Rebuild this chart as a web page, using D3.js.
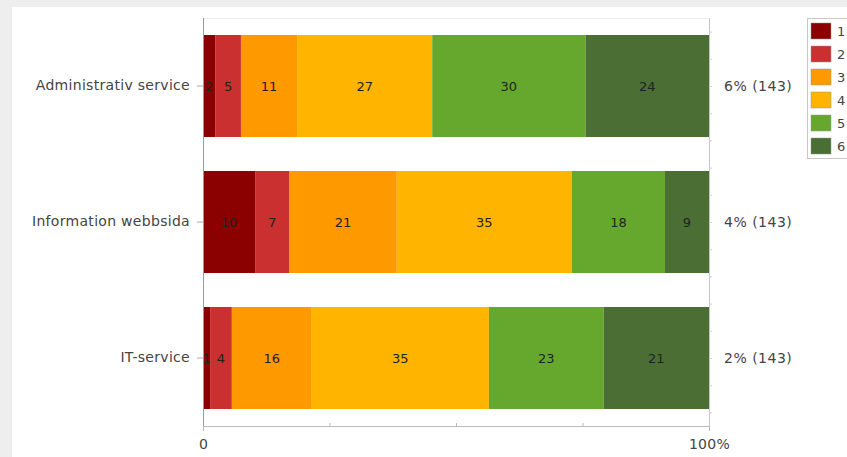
<!DOCTYPE html>
<html>
<head>
<meta charset="utf-8">
<script src="https://cdn.jsdelivr.net/npm/d3@7"></script>
<style>
  body { margin: 0; background: #eeeeee; }
  svg { display: block; font-family: "DejaVu Sans", Verdana, sans-serif; }
</style>
</head>
<body>
<div id="chart"></div>
<script>
var categories = ["Administrativ service", "Information webbsida", "IT-service"];
var seriesKeys = ["1", "2", "3", "4", "5", "6"];
// percent shares per category
var values1 = [2.4, 10.3, 1.4];
var values2 = [5.1, 6.7, 4.3];
var values3 = [11.1, 21.3, 15.8];
var values4 = [26.7, 34.6, 35.0];
var values5 = [30.3, 18.4, 22.7];
var values6 = [24.4, 8.7, 20.8];
var sideLabels = ["6% (143)", "4% (143)", "2% (143)"];
var xTickLabels = ["0", "", "", "", "100%"];

var colors = ["#8b0000", "#c9302f", "#ff9900", "#ffb400", "#66a82e", "#4b6e35"];

var W = 847, H = 457;
var margins = {top: 18, left: 203, right: 138, bottom: 31};
var plotW = W - margins.left - margins.right, plotH = H - margins.top - margins.bottom;
var labelFont = "14px";

var allSeries = [values1, values2, values3, values4, values5, values6];
var table = categories.map(function(c, i) {
    var row = {name: c, side: sideLabels[i]};
    seriesKeys.forEach(function(k, j) { row[k] = allSeries[j][i]; });
    return row;
});

var stacked = d3.stack().keys(seriesKeys).offset(d3.stackOffsetExpand)(table);

var x = d3.scaleLinear().domain([0, 1]).range([0, plotW]);
var y = d3.scaleBand().domain(categories).range([0, plotH])
    .paddingInner(0.25).paddingOuter(0.125);
var color = d3.scaleOrdinal().domain(seriesKeys).range(colors);

var svg = d3.select("#chart").append("svg").attr("width", W).attr("height", H);

svg.append("rect").attr("x", 12).attr("y", 7)
    .attr("width", W - 12).attr("height", H - 7).attr("fill", "#fff");

var g = svg.append("g").attr("transform", "translate(" + margins.left + "," + margins.top + ")");

// top frame line
g.append("line").attr("x1", 0).attr("x2", plotW).attr("y1", 0.5).attr("y2", 0.5)
    .attr("stroke", "#ececec");

var layers = g.selectAll(".layer").data(stacked).enter().append("g")
    .attr("class", "layer")
    .attr("fill", function(d) { return color(d.key); });

layers.selectAll("rect").data(function(d) { return d; }).enter().append("rect")
    .attr("x", function(d) { return x(d[0]); })
    .attr("y", function(d) { return y(d.data.name); })
    .attr("width", function(d) { return x(d[1]) - x(d[0]); })
    .attr("height", y.bandwidth());

layers.selectAll("text").data(function(d) {
        var key = d.key;
        return d.map(function(p) { return {p: p, key: key}; });
    }).enter().append("text")
    .attr("x", function(d) { return (x(d.p[0]) + x(d.p[1])) / 2; })
    .attr("y", function(d) { return y(d.p.data.name) + y.bandwidth() / 2; })
    .attr("dy", "0.35em")
    .attr("text-anchor", "middle")
    .attr("font-size", "13px")
    .attr("fill", "#222")
    .text(function(d) { return Math.round(d.p.data[d.key]); });

// left axis
var yAxis = d3.axisLeft(y).tickSize(6).tickSizeOuter(0).tickPadding(7);
var ya = g.append("g").call(yAxis);
ya.select(".domain").attr("stroke", "#999").attr("d", "M0.5," + 0 + "V" + plotH);
ya.selectAll(".tick line").attr("stroke", "#aaa");
ya.selectAll("text").attr("font-size", labelFont).attr("fill", "#444")
    .attr("letter-spacing", "0.3px")
    .style("font-family", "DejaVu Sans, Verdana, sans-serif");

// right axis with minor ticks
var yMinor = d3.scaleLinear().domain([0, 15]).range([0, plotH]);
var rightTicks = d3.range(15).map(function(i) { return i + 0.5; });
var ra = g.append("g").attr("transform", "translate(" + plotW + ",0)")
    .call(d3.axisRight(yMinor).tickValues(rightTicks).tickSize(3).tickSizeOuter(0).tickFormat(""));
ra.select(".domain").attr("stroke", "#c4c4c4");
ra.selectAll(".tick line").attr("stroke", "#d0d0d0");

// side labels
g.selectAll(".side").data(table).enter().append("text")
    .attr("class", "side")
    .attr("x", plotW + 15)
    .attr("y", function(d) { return y(d.name) + y.bandwidth() / 2; })
    .attr("dy", "0.35em")
    .attr("font-size", labelFont)
    .attr("letter-spacing", "0.5px")
    .attr("fill", "#444")
    .text(function(d) { return d.side; });

// bottom axis
var xa = g.append("g").attr("transform", "translate(0," + plotH + ")")
    .call(d3.axisBottom(x).tickValues([0, 0.25, 0.5, 0.75, 1]).tickSizeOuter(0)
        .tickSize(5).tickPadding(8)
        .tickFormat(function(d, i) { return xTickLabels[i]; }));
xa.select(".domain").attr("stroke", "#bbb");
xa.selectAll(".tick line").attr("stroke", "#bbb")
    .attr("y2", function(d) { return (d === 0 || d === 1) ? 5 : -3; });
xa.selectAll("text").attr("font-size", labelFont).attr("fill", "#444")
    .attr("letter-spacing", "0.3px")
    .style("font-family", "DejaVu Sans, Verdana, sans-serif");

// legend
var legend = svg.append("g").attr("transform", "translate(807,18)");
legend.append("rect").attr("x", 0.5).attr("y", 0.5).attr("width", 60).attr("height", 140)
    .attr("fill", "#fff").attr("stroke", "#c8c8c8");
var items = legend.selectAll(".item").data(seriesKeys).enter().append("g")
    .attr("class", "item")
    .attr("transform", function(d, i) { return "translate(4," + (5 + i * 23) + ")"; });
items.append("rect").attr("width", 20).attr("height", 16)
    .attr("fill", color).attr("stroke", "#999").attr("stroke-width", 0.5);
items.append("text").attr("x", 26).attr("y", 8).attr("dy", "0.35em")
    .attr("font-size", "13px").attr("fill", "#444")
    .text(function(d) { return d; });
</script>
</body>
</html>
